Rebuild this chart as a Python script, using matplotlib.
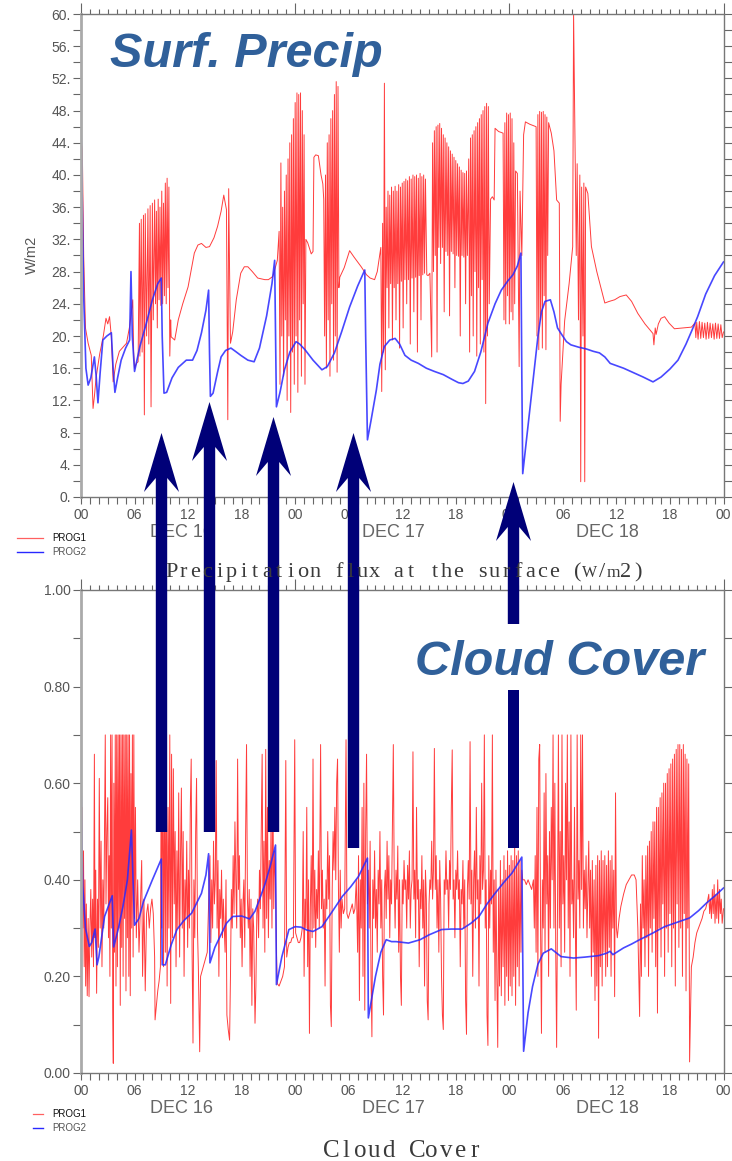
import numpy as np
import matplotlib
matplotlib.use("Agg")
import matplotlib.pyplot as plt
from matplotlib.ticker import FixedLocator, MultipleLocator, FuncFormatter
from matplotlib.patches import Polygon
import matplotlib.transforms as mtransforms

# ---------------------------------------------------------------- data
# hours since 00 UTC Dec 16, value

hour_ticks = [0, 6, 12, 18, 24, 30, 36, 42, 48, 54, 60, 66, 72]
hour_labels = ["00", "06", "12", "18", "00", "06", "12", "18", "00", "06", "12", "18", "00"]
day_labels = ["DEC 16", "DEC 17", "DEC 18"]
day_label_hours = [11.3, 35.0, 59.0]

# precipitation flux (W/m2), run PROG1
precip_prog1 = [
    (0.0, 8.0), (0.05, 44.0), (0.15, 43.0), (0.3, 30.0), (0.5, 21.0), (0.8, 19.1), (1.15, 17.6),
    (1.35, 11.0), (1.5, 12.5), (1.7, 14.9), (2.1, 17.8), (2.5, 20.0), (2.8, 22.2), (3.0, 21.5),
    (3.2, 22.4), (3.4, 19.9), (3.6, 14.3), (3.9, 16.5), (4.3, 18.1), (4.7, 18.6), (5.1, 19.1),
    (5.45, 21.2), (5.8, 24.5), (5.9, 18.0), (6.0, 16.0), (6.2, 16.6),
    (6.4, 16.8), (6.55, 34.0), (6.6, 17.5), (6.75, 34.5), (6.85, 18.0), (7.0, 35.0), (7.1, 10.2),
    (7.2, 35.2), (7.35, 20.0), (7.5, 35.8), (7.6, 19.0), (7.75, 36.2), (7.85, 11.2), (8.0, 36.5),
    (8.1, 22.0), (8.25, 36.9), (8.35, 24.0), (8.45, 35.5), (8.55, 21.0), (8.65, 37.0), (8.75, 24.5),
    (8.85, 36.0), (8.95, 23.8), (9.05, 38.0), (9.15, 24.0), (9.25, 36.5), (9.35, 25.0), (9.45, 39.0),
    (9.55, 24.0), (9.65, 39.6), (9.75, 26.0), (9.85, 38.5), (9.95, 17.5), (10.05, 22.0), (10.1, 19.9),
    (10.5, 19.5), (10.9, 22.0), (11.4, 24.0), (12.0, 26.1), (12.7, 30.3), (13.1, 31.3), (13.5, 31.5),
    (14.0, 31.0), (14.4, 31.1), (14.9, 32.2), (15.3, 33.6), (15.7, 35.5), (16.0, 37.5), (16.3, 35.7),
    (16.45, 9.6), (16.55, 38.3), (16.65, 28.0), (16.75, 19.1), (17.0, 20.5), (17.4, 24.5), (17.9, 27.8),
    (18.3, 28.6), (18.7, 28.6), (19.2, 28.0), (19.8, 27.2), (20.6, 27.0), (21.0, 27.0), (21.5, 27.4),
    (22.0, 29.4),
    (22.2, 33.0), (22.3, 14.0), (22.4, 41.5), (22.5, 20.0), (22.6, 36.0), (22.7, 15.0), (22.8, 38.0),
    (22.9, 22.0), (23.0, 40.0), (23.1, 12.0), (23.2, 42.0), (23.3, 20.0), (23.4, 44.0), (23.5, 10.5),
    (23.6, 45.0), (23.7, 18.0), (23.8, 47.0), (23.9, 14.0), (24.0, 49.0), (24.1, 20.0), (24.2, 50.2),
    (24.3, 13.0), (24.4, 50.0), (24.5, 22.0), (24.6, 50.2), (24.7, 15.0), (24.8, 48.0), (24.9, 24.0),
    (25.0, 45.0), (25.1, 14.0), (25.2, 32.0), (25.4, 31.6), (25.8, 30.2), (26.0, 30.5), (26.1, 42.2),
    (26.3, 42.5), (26.6, 42.4), (26.9, 40.0), (27.1, 38.9), (27.2, 37.0),
    (27.3, 20.0), (27.4, 40.0), (27.5, 16.0), (27.6, 44.0), (27.7, 22.0), (27.8, 45.0), (27.9, 15.0),
    (28.0, 47.0), (28.1, 24.0), (28.2, 48.0), (28.3, 17.0), (28.4, 50.0), (28.5, 20.0), (28.6, 51.6),
    (28.7, 15.5), (28.8, 51.0), (28.9, 26.0), (29.0, 27.3), (29.5, 28.5), (30.1, 30.6), (30.6, 29.8),
    (31.4, 28.6), (32.0, 27.6), (32.4, 27.2), (32.9, 27.0), (33.2, 28.0), (33.5, 30.3),
    (33.6, 31.0), (33.7, 13.1), (33.8, 34.0), (33.9, 18.0), (34.0, 51.4), (34.1, 15.8), (34.2, 36.0),
    (34.3, 26.0), (34.4, 38.0), (34.5, 21.0), (34.6, 37.5), (34.7, 26.5), (34.8, 38.5), (34.9, 19.5),
    (35.0, 38.0), (35.1, 26.0), (35.2, 38.6), (35.3, 22.0), (35.4, 38.0), (35.5, 26.5), (35.6, 38.8),
    (35.7, 18.5), (35.8, 38.5), (35.9, 26.8), (36.0, 39.0), (36.1, 21.0), (36.2, 39.2), (36.3, 27.0),
    (36.4, 39.5), (36.5, 24.0), (36.6, 39.3), (36.7, 27.0), (36.8, 39.8), (36.9, 19.0), (37.0, 39.5),
    (37.1, 27.2), (37.2, 40.0), (37.3, 23.0), (37.4, 39.8), (37.5, 27.3), (37.6, 40.0), (37.7, 18.0),
    (37.8, 39.6), (37.9, 27.5), (38.0, 40.2), (38.1, 22.0), (38.2, 39.8), (38.3, 27.6), (38.4, 40.0),
    (38.5, 27.8), (38.6, 39.5), (38.75, 27.6), (38.9, 27.5), (39.1, 27.8), (39.3, 17.4),
    (39.4, 44.0), (39.5, 28.0), (39.6, 45.5), (39.7, 30.0), (39.8, 46.0), (39.9, 18.0), (40.0, 46.2),
    (40.1, 31.0), (40.2, 46.4), (40.3, 29.0), (40.4, 45.8), (40.5, 31.0), (40.6, 45.0), (40.7, 23.0),
    (40.8, 44.6), (40.9, 30.5), (41.0, 44.0), (41.1, 30.0), (41.2, 43.5), (41.3, 22.5), (41.4, 43.0),
    (41.5, 30.5), (41.6, 42.6), (41.7, 30.2), (41.8, 42.2), (41.9, 26.0), (42.0, 41.8), (42.1, 30.0),
    (42.2, 41.4), (42.3, 29.9), (42.4, 41.0), (42.5, 20.0), (42.6, 40.6), (42.7, 30.0), (42.8, 40.3),
    (42.9, 29.8), (43.0, 40.2), (43.1, 24.0), (43.2, 40.5), (43.3, 30.0),
    (43.45, 42.0), (43.55, 18.0), (43.65, 44.6), (43.75, 25.0), (43.85, 45.0), (43.95, 20.0),
    (44.05, 45.5), (44.15, 28.0), (44.25, 46.0), (44.35, 17.5), (44.45, 46.5), (44.55, 26.0),
    (44.65, 47.0), (44.75, 19.0), (44.85, 47.5), (44.95, 27.0), (45.05, 48.0), (45.15, 18.0),
    (45.25, 48.5), (45.35, 11.6), (45.45, 48.9), (45.55, 20.0), (45.65, 48.5), (45.75, 24.0),
    (45.9, 37.0), (46.1, 37.3), (46.3, 36.9), (46.4, 45.8), (46.8, 45.4), (47.3, 45.2), (47.4, 22.0),
    (47.5, 46.5), (47.6, 21.5), (47.7, 47.7), (47.8, 25.0), (47.9, 47.5), (48.0, 21.5), (48.1, 47.7),
    (48.2, 23.0), (48.3, 47.0), (48.4, 22.0), (48.5, 44.0), (48.6, 24.0), (48.7, 40.5), (48.9, 40.2),
    (49.1, 16.2), (49.2, 38.0), (49.4, 30.0), (49.6, 45.0), (49.8, 46.6), (50.3, 46.3), (51.0, 46.0),
    (51.1, 20.0), (51.2, 47.5), (51.3, 18.3), (51.4, 47.9), (51.5, 22.0), (51.6, 47.8), (51.7, 18.5),
    (51.8, 47.9), (51.9, 25.0), (52.0, 47.5), (52.1, 18.3), (52.2, 47.2), (52.3, 30.0), (52.4, 46.5),
    (52.7, 45.2), (53.0, 43.0), (53.3, 36.9), (53.6, 36.5), (53.7, 9.4), (53.8, 14.0), (54.2, 21.9),
    (54.7, 26.5), (55.1, 31.1), (55.2, 60.0), (55.35, 45.0), (55.5, 30.0), (55.6, 41.4), (55.75, 22.0),
    (55.9, 40.0), (56.0, 1.9), (56.1, 38.5), (56.25, 20.0), (56.35, 39.0), (56.45, 1.9), (56.55, 38.5),
    (56.8, 37.7), (57.2, 31.1), (57.8, 28.0), (58.7, 24.1), (59.2, 24.3), (59.8, 24.5), (60.4, 24.9),
    (61.1, 25.1), (61.7, 24.3), (62.4, 22.8), (63.2, 21.5), (64.1, 20.3), (64.2, 18.9), (64.35, 21.0),
    (64.45, 20.2), (64.7, 21.5), (65.0, 22.2), (65.4, 22.4), (65.9, 21.6), (66.5, 20.9), (67.5, 21.0),
    (68.4, 21.1), (68.8, 21.6), (68.9, 19.8), (69.0, 21.7), (69.15, 19.6), (69.3, 21.8), (69.45, 19.7),
    (69.6, 21.7), (69.75, 19.8), (69.9, 21.6), (70.05, 19.6), (70.2, 21.7), (70.35, 19.7), (70.5, 21.6),
    (70.65, 19.8), (70.8, 21.5), (70.95, 19.6), (71.1, 21.6), (71.25, 19.7), (71.4, 21.5),
    (71.55, 19.7), (71.7, 21.4), (71.85, 19.8), (72.0, 20.5),
]

# precipitation flux (W/m2), run PROG2
precip_prog2 = [
    (0.0, 46.2), (0.1, 40.0), (0.3, 25.0), (0.55, 16.0), (0.8, 13.9), (1.1, 14.8), (1.5, 17.4),
    (1.7, 15.0), (1.9, 11.7), (2.15, 15.5), (2.45, 19.5), (2.9, 20.0), (3.4, 20.4), (3.6, 16.0),
    (3.8, 13.0), (4.1, 14.8), (4.5, 17.0), (5.0, 18.5), (5.45, 19.5), (5.6, 28.0), (5.75, 20.0),
    (6.0, 15.6), (6.6, 18.7), (7.3, 21.5), (8.0, 24.5), (8.6, 26.5), (9.0, 27.2), (9.1, 20.0),
    (9.3, 12.9), (9.6, 13.0), (10.2, 14.8), (10.9, 16.1), (11.8, 17.0), (12.5, 17.0), (13.0, 18.2),
    (13.5, 20.4), (14.0, 23.2), (14.3, 25.7), (14.4, 18.0), (14.5, 12.5), (14.8, 12.9), (15.3, 15.5),
    (15.7, 17.4), (16.2, 18.2), (16.8, 18.5), (17.3, 18.1), (17.9, 17.6), (18.7, 17.0), (19.4, 16.8),
    (20.0, 18.5), (20.8, 22.5), (21.4, 26.5), (21.7, 29.4), (21.8, 20.0), (21.9, 11.2), (22.3, 13.0),
    (22.8, 15.8), (23.4, 18.0), (24.1, 19.3), (24.5, 19.0), (25.1, 18.3), (26.0, 17.0), (27.0, 15.8),
    (27.6, 16.2), (28.4, 17.9), (29.2, 20.5), (30.1, 23.6), (31.0, 26.2), (31.8, 28.2), (31.9, 20.0),
    (32.1, 7.1), (32.5, 9.5), (33.1, 13.3), (33.5, 16.5), (34.0, 18.7), (34.6, 19.5), (35.2, 19.7),
    (35.7, 19.0), (36.3, 17.6), (37.0, 17.0), (37.8, 16.6), (38.7, 16.0), (39.6, 15.6), (40.6, 15.2),
    (41.6, 14.6), (42.3, 14.2), (42.8, 14.1), (43.4, 14.4), (44.1, 15.6), (44.8, 18.0), (45.6, 21.6),
    (46.4, 24.0), (47.1, 25.7), (47.8, 26.8), (48.4, 27.6), (48.9, 28.7), (49.3, 30.3), (49.4, 15.0),
    (49.5, 2.9), (51.2, 19.9), (51.6, 23.0), (52.0, 24.3), (52.6, 24.5), (53.0, 23.0), (53.4, 21.0),
    (53.8, 20.3), (54.4, 19.3), (54.9, 18.9), (55.8, 18.6), (56.6, 18.4), (57.4, 18.1), (58.1, 17.9),
    (58.7, 17.4), (59.3, 16.6), (59.8, 16.4), (60.8, 16.0), (62.0, 15.4), (63.0, 14.9), (64.1, 14.3),
    (65.0, 14.9), (66.0, 15.9), (66.9, 17.0), (67.8, 19.0), (68.5, 20.8), (69.1, 22.4), (70.0, 25.2),
    (71.0, 27.5), (72.0, 29.2),
]

# cloud cover fraction, run PROG1
cloud_prog1 = [
    (0.00, 0.70), (0.05, 0.40), (0.12, 0.55), (0.20, 0.30), (0.28, 0.46), (0.36, 0.22), (0.44, 0.40),
    (0.52, 0.18), (0.60, 0.35), (0.70, 0.16), (0.80, 0.32), (0.90, 0.158), (1.00, 0.30), (1.10, 0.38),
    (1.20, 0.24), (1.30, 0.36), (1.40, 0.22), (1.50, 0.66), (1.57, 0.28), (1.65, 0.42), (1.75, 0.165),
    (1.85, 0.36), (1.95, 0.26), (2.05, 0.61), (2.15, 0.30), (2.25, 0.48), (2.35, 0.22), (2.45, 0.40),
    (2.55, 0.30), (2.65, 0.55), (2.72, 0.70), (2.80, 0.35), (2.90, 0.50), (3.00, 0.57), (3.08, 0.28),
    (3.16, 0.45), (3.24, 0.20), (3.32, 0.70), (3.40, 0.30), (3.48, 0.70), (3.56, 0.13), (3.62, 0.02),
    (3.68, 0.60), (3.76, 0.25), (3.84, 0.70), (3.92, 0.18), (4.00, 0.70), (4.08, 0.22), (4.16, 0.70),
    (4.24, 0.30), (4.32, 0.70), (4.40, 0.14), (4.48, 0.70), (4.56, 0.26), (4.64, 0.70), (4.72, 0.20),
    (4.80, 0.70), (4.88, 0.32), (4.96, 0.70), (5.04, 0.17), (5.12, 0.70), (5.20, 0.28), (5.28, 0.70),
    (5.36, 0.20), (5.44, 0.70), (5.52, 0.16), (5.60, 0.62), (5.68, 0.30), (5.76, 0.70), (5.84, 0.24),
    (5.92, 0.70), (6.00, 0.32), (6.10, 0.55), (6.20, 0.28), (6.35, 0.40), (6.50, 0.25), (6.65, 0.34),
    (6.80, 0.44), (6.90, 0.20), (7.05, 0.36), (7.20, 0.17), (7.35, 0.33), (7.50, 0.35), (7.65, 0.30),
    (7.80, 0.34), (7.95, 0.36), (8.10, 0.33), (8.25, 0.24), (8.30, 0.11), (8.45, 0.14), (8.60, 0.17),
    (8.75, 0.19), (8.90, 0.22), (9.00, 0.70), (9.05, 0.30), (9.15, 0.70), (9.25, 0.22), (9.35, 0.62),
    (9.45, 0.25), (9.55, 0.70), (9.65, 0.18), (9.75, 0.55), (9.85, 0.30), (9.95, 0.70), (10.05, 0.144),
    (10.15, 0.66), (10.25, 0.28), (10.35, 0.63), (10.45, 0.35), (10.55, 0.50), (10.65, 0.22),
    (10.75, 0.46), (10.85, 0.30), (10.95, 0.58), (11.05, 0.24), (11.15, 0.45), (11.25, 0.59),
    (11.35, 0.30), (11.45, 0.50), (11.55, 0.20), (11.65, 0.40), (11.75, 0.32), (11.85, 0.48),
    (11.95, 0.26), (12.05, 0.42), (12.15, 0.30), (12.25, 0.55), (12.35, 0.65), (12.45, 0.25),
    (12.55, 0.062), (12.65, 0.40), (12.75, 0.28), (12.85, 0.50), (12.95, 0.61), (13.05, 0.30),
    (13.15, 0.22), (13.30, 0.044), (13.40, 0.20), (13.55, 0.21), (13.70, 0.22), (13.85, 0.23),
    (14.00, 0.24), (14.15, 0.25), (14.30, 0.35), (14.45, 0.45), (14.55, 0.27), (14.65, 0.40),
    (14.75, 0.30), (14.85, 0.48), (14.95, 0.35), (15.05, 0.40), (15.15, 0.647), (15.25, 0.30),
    (15.35, 0.44), (15.45, 0.20), (15.55, 0.38), (15.65, 0.32), (15.75, 0.42), (15.85, 0.28),
    (15.95, 0.36), (16.05, 0.30), (16.15, 0.25), (16.25, 0.40), (16.35, 0.12), (16.50, 0.09),
    (16.65, 0.068), (16.75, 0.20), (16.85, 0.38), (16.95, 0.30), (17.05, 0.45), (17.15, 0.33),
    (17.25, 0.52), (17.35, 0.40), (17.45, 0.30), (17.55, 0.65), (17.65, 0.38), (17.75, 0.45),
    (17.85, 0.28), (17.95, 0.36), (18.05, 0.22), (18.15, 0.35), (18.25, 0.40), (18.35, 0.26),
    (18.45, 0.50), (18.55, 0.68), (18.65, 0.36), (18.75, 0.30), (18.85, 0.38), (18.95, 0.20),
    (19.05, 0.36), (19.15, 0.14), (19.25, 0.34), (19.35, 0.30), (19.50, 0.103), (19.60, 0.18),
    (19.70, 0.33), (19.80, 0.36), (19.90, 0.28), (20.00, 0.42), (20.10, 0.34), (20.20, 0.50),
    (20.30, 0.66), (20.40, 0.30), (20.50, 0.48), (20.60, 0.25), (20.70, 0.67), (20.80, 0.32),
    (20.90, 0.55), (21.00, 0.28), (21.10, 0.44), (21.20, 0.36), (21.30, 0.52), (21.40, 0.30),
    (21.50, 0.60), (21.60, 0.34), (21.70, 0.46), (21.80, 0.40), (21.90, 0.25), (22.00, 0.185),
    (22.20, 0.18), (22.40, 0.19), (22.60, 0.20), (22.80, 0.22), (22.95, 0.647), (23.05, 0.24),
    (23.20, 0.26), (23.35, 0.27), (23.50, 0.27), (23.65, 0.28), (23.80, 0.28), (23.95, 0.69),
    (24.05, 0.29), (24.20, 0.28), (24.35, 0.27), (24.50, 0.27), (24.65, 0.28), (24.80, 0.30),
    (24.90, 0.50), (25.00, 0.20), (25.10, 0.36), (25.20, 0.30), (25.30, 0.55), (25.40, 0.22),
    (25.50, 0.40), (25.60, 0.082), (25.70, 0.34), (25.80, 0.45), (25.90, 0.28), (26.00, 0.65),
    (26.10, 0.30), (26.20, 0.42), (26.30, 0.26), (26.40, 0.38), (26.50, 0.32), (26.60, 0.46),
    (26.70, 0.30), (26.85, 0.68), (26.95, 0.34), (27.05, 0.42), (27.15, 0.30), (27.25, 0.36),
    (27.35, 0.18), (27.45, 0.40), (27.55, 0.34), (27.65, 0.50), (27.75, 0.36), (27.85, 0.45),
    (27.95, 0.14), (28.05, 0.096), (28.15, 0.38), (28.25, 0.50), (28.35, 0.42), (28.45, 0.55),
    (28.55, 0.40), (28.65, 0.60), (28.75, 0.65), (28.85, 0.38), (28.95, 0.25), (29.05, 0.42),
    (29.15, 0.30), (29.25, 0.36), (29.40, 0.33), (29.55, 0.34), (29.70, 0.69), (29.80, 0.33),
    (29.95, 0.32), (30.10, 0.33), (30.25, 0.34), (30.40, 0.35), (30.55, 0.33), (30.70, 0.34),
    (30.85, 0.40), (31.00, 0.25), (31.10, 0.45), (31.20, 0.15), (31.30, 0.40), (31.40, 0.30),
    (31.50, 0.55), (31.60, 0.20), (31.70, 0.60), (31.80, 0.13), (31.90, 0.50), (32.00, 0.66),
    (32.10, 0.35), (32.20, 0.42), (32.30, 0.30), (32.40, 0.48), (32.50, 0.20), (32.60, 0.075),
    (32.70, 0.40), (32.80, 0.32), (32.90, 0.46), (33.00, 0.30), (33.10, 0.38), (33.20, 0.25),
    (33.30, 0.42), (33.40, 0.35), (33.50, 0.50), (33.60, 0.30), (33.70, 0.40), (33.80, 0.20),
    (33.90, 0.12), (34.00, 0.38), (34.10, 0.42), (34.20, 0.32), (34.30, 0.48), (34.40, 0.36),
    (34.50, 0.45), (34.60, 0.28), (34.70, 0.40), (34.80, 0.35), (34.90, 0.52), (35.00, 0.68),
    (35.10, 0.40), (35.20, 0.30), (35.30, 0.42), (35.40, 0.36), (35.50, 0.47), (35.60, 0.25),
    (35.70, 0.40), (35.80, 0.20), (35.90, 0.14), (36.00, 0.40), (36.10, 0.35), (36.20, 0.44),
    (36.30, 0.38), (36.40, 0.40), (36.50, 0.30), (36.60, 0.43), (36.70, 0.36), (36.80, 0.46),
    (36.90, 0.30), (37.00, 0.38), (37.10, 0.40), (37.20, 0.665), (37.30, 0.36), (37.40, 0.42),
    (37.50, 0.28), (37.60, 0.55), (37.70, 0.36), (37.80, 0.40), (37.90, 0.22), (38.00, 0.38),
    (38.10, 0.34), (38.20, 0.45), (38.30, 0.30), (38.40, 0.40), (38.50, 0.18), (38.60, 0.42),
    (38.70, 0.36), (38.80, 0.15), (38.90, 0.11), (39.00, 0.35), (39.10, 0.40), (39.20, 0.38),
    (39.30, 0.48), (39.40, 0.36), (39.50, 0.42), (39.60, 0.672), (39.70, 0.38), (39.80, 0.45),
    (39.90, 0.30), (40.00, 0.40), (40.10, 0.25), (40.20, 0.44), (40.30, 0.36), (40.40, 0.20),
    (40.50, 0.12), (40.60, 0.09), (40.70, 0.40), (40.80, 0.37), (40.90, 0.46), (41.00, 0.38),
    (41.10, 0.40), (41.20, 0.30), (41.30, 0.44), (41.40, 0.38), (41.50, 0.55), (41.60, 0.669),
    (41.70, 0.36), (41.80, 0.40), (41.90, 0.28), (42.00, 0.42), (42.10, 0.38), (42.20, 0.46),
    (42.30, 0.36), (42.40, 0.40), (42.50, 0.22), (42.60, 0.38), (42.70, 0.35), (42.80, 0.44),
    (42.90, 0.30), (43.00, 0.40), (43.10, 0.15), (43.20, 0.08), (43.30, 0.38), (43.40, 0.44),
    (43.50, 0.36), (43.60, 0.686), (43.70, 0.35), (43.80, 0.42), (43.90, 0.20), (44.00, 0.40),
    (44.10, 0.46), (44.20, 0.30), (44.30, 0.55), (44.40, 0.36), (44.50, 0.40), (44.60, 0.18),
    (44.70, 0.45), (44.80, 0.35), (44.90, 0.60), (45.00, 0.38), (45.10, 0.42), (45.20, 0.70),
    (45.30, 0.30), (45.40, 0.40), (45.50, 0.12), (45.60, 0.057), (45.70, 0.45), (45.80, 0.30),
    (45.90, 0.42), (46.00, 0.35), (46.10, 0.70), (46.20, 0.25), (46.30, 0.40), (46.40, 0.15),
    (46.50, 0.42), (46.60, 0.20), (46.70, 0.053), (46.80, 0.38), (46.90, 0.18), (47.00, 0.44),
    (47.10, 0.16), (47.20, 0.40), (47.30, 0.22), (47.40, 0.45), (47.50, 0.14), (47.60, 0.42),
    (47.70, 0.20), (47.80, 0.46), (47.90, 0.15), (48.00, 0.43), (48.10, 0.18), (48.20, 0.45),
    (48.30, 0.16), (48.40, 0.44), (48.50, 0.20), (48.60, 0.47), (48.70, 0.14), (48.80, 0.45),
    (48.90, 0.22), (49.00, 0.46), (49.10, 0.18), (49.20, 0.44), (49.30, 0.25), (49.40, 0.42),
    (49.50, 0.40), (49.70, 0.40), (49.90, 0.39), (50.10, 0.40), (50.30, 0.39), (50.50, 0.38),
    (50.70, 0.40), (50.80, 0.30), (50.90, 0.45), (51.00, 0.25), (51.10, 0.55), (51.20, 0.20),
    (51.30, 0.65), (51.40, 0.68), (51.50, 0.30), (51.60, 0.082), (51.70, 0.40), (51.80, 0.30),
    (51.90, 0.58), (52.00, 0.25), (52.10, 0.62), (52.20, 0.35), (52.30, 0.45), (52.40, 0.20),
    (52.50, 0.50), (52.60, 0.30), (52.70, 0.55), (52.80, 0.40), (52.90, 0.70), (53.00, 0.30),
    (53.10, 0.60), (53.20, 0.25), (53.30, 0.053), (53.40, 0.35), (53.50, 0.70), (53.60, 0.30),
    (53.70, 0.50), (53.80, 0.22), (53.90, 0.70), (54.00, 0.35), (54.10, 0.45), (54.20, 0.25),
    (54.30, 0.60), (54.40, 0.40), (54.50, 0.70), (54.60, 0.30), (54.70, 0.52), (54.80, 0.20),
    (54.90, 0.70), (55.00, 0.35), (55.10, 0.40), (55.20, 0.28), (55.30, 0.55), (55.40, 0.30),
    (55.50, 0.13), (55.60, 0.70), (55.70, 0.36), (55.80, 0.44), (55.90, 0.30), (56.00, 0.70),
    (56.10, 0.38), (56.20, 0.70), (56.30, 0.30), (56.40, 0.42), (56.50, 0.34), (56.60, 0.45),
    (56.70, 0.28), (56.80, 0.38), (56.90, 0.48), (57.00, 0.30), (57.10, 0.42), (57.20, 0.20),
    (57.30, 0.44), (57.40, 0.25), (57.50, 0.40), (57.60, 0.15), (57.70, 0.43), (57.80, 0.18),
    (57.90, 0.45), (58.00, 0.072), (58.10, 0.44), (58.20, 0.22), (58.30, 0.46), (58.40, 0.18),
    (58.50, 0.44), (58.60, 0.25), (58.70, 0.45), (58.80, 0.20), (58.90, 0.43), (59.00, 0.22),
    (59.10, 0.46), (59.20, 0.26), (59.30, 0.44), (59.40, 0.20), (59.50, 0.45), (59.60, 0.30),
    (59.70, 0.42), (59.80, 0.158), (59.90, 0.58), (60.00, 0.30), (60.10, 0.28), (60.30, 0.32),
    (60.50, 0.345), (60.80, 0.37), (61.10, 0.39), (61.40, 0.40), (61.70, 0.41), (62.00, 0.41),
    (62.20, 0.40), (62.40, 0.30), (62.60, 0.117), (62.70, 0.35), (62.80, 0.20), (62.90, 0.45),
    (63.00, 0.30), (63.10, 0.40), (63.20, 0.22), (63.30, 0.45), (63.40, 0.28), (63.50, 0.47),
    (63.60, 0.20), (63.70, 0.48), (63.80, 0.30), (63.90, 0.50), (64.00, 0.25), (64.10, 0.52),
    (64.20, 0.32), (64.30, 0.52), (64.40, 0.22), (64.50, 0.55), (64.60, 0.124), (64.70, 0.55),
    (64.80, 0.30), (64.90, 0.57), (65.00, 0.24), (65.10, 0.58), (65.20, 0.35), (65.30, 0.60),
    (65.40, 0.20), (65.50, 0.60), (65.60, 0.30), (65.70, 0.62), (65.80, 0.25), (65.90, 0.63),
    (66.00, 0.33), (66.10, 0.64), (66.20, 0.22), (66.30, 0.65), (66.40, 0.30), (66.50, 0.66),
    (66.60, 0.18), (66.70, 0.67), (66.80, 0.35), (66.90, 0.68), (67.00, 0.26), (67.10, 0.68),
    (67.20, 0.30), (67.30, 0.67), (67.40, 0.20), (67.50, 0.68), (67.60, 0.33), (67.70, 0.66),
    (67.80, 0.17), (67.90, 0.65), (68.00, 0.30), (68.10, 0.64), (68.20, 0.023), (68.40, 0.22),
    (68.60, 0.24), (68.80, 0.27), (69.00, 0.29), (69.20, 0.30), (69.40, 0.31), (69.60, 0.32),
    (69.80, 0.335), (70.00, 0.34), (70.20, 0.355), (70.35, 0.37), (70.45, 0.33), (70.55, 0.36),
    (70.65, 0.32), (70.75, 0.38), (70.85, 0.33), (70.95, 0.39), (71.05, 0.31), (71.15, 0.37),
    (71.25, 0.32), (71.35, 0.40), (71.45, 0.31), (71.55, 0.38), (71.65, 0.33), (71.75, 0.36),
    (71.85, 0.31), (72.00, 0.34),
]

# cloud cover fraction, run PROG2
cloud_prog2 = [
    (0.0, 0.60), (0.2, 0.386), (0.5, 0.30), (0.93, 0.262), (1.2, 0.27), (1.58, 0.298), (1.8, 0.224),
    (2.0, 0.24), (2.64, 0.324), (3.5, 0.367), (3.66, 0.261), (4.2, 0.30), (4.7, 0.345), (5.2, 0.40),
    (5.65, 0.503), (6.0, 0.306), (6.5, 0.32), (7.0, 0.355), (8.0, 0.40), (9.0, 0.443), (9.1, 0.224),
    (9.45, 0.224), (10.1, 0.265), (10.75, 0.297), (11.5, 0.315), (12.4, 0.331), (13.5, 0.372),
    (14.0, 0.41), (14.3, 0.454), (14.45, 0.228), (15.0, 0.26), (15.6, 0.283), (16.3, 0.31),
    (17.0, 0.324), (18.0, 0.325), (18.9, 0.319), (19.5, 0.335), (20.0, 0.359), (20.6, 0.39),
    (21.2, 0.428), (21.8, 0.472), (21.9, 0.183), (22.5, 0.24), (23.3, 0.297), (24.0, 0.303),
    (24.65, 0.302), (25.3, 0.296), (26.0, 0.293), (27.0, 0.303), (28.0, 0.33), (29.3, 0.366),
    (30.2, 0.385), (31.1, 0.407), (32.1, 0.445), (32.2, 0.114), (33.0, 0.200), (33.6, 0.25),
    (34.2, 0.276), (34.8, 0.272), (35.3, 0.272), (36.7, 0.269), (38.0, 0.276), (39.0, 0.286),
    (40.4, 0.297), (41.5, 0.298), (42.7, 0.298), (43.7, 0.31), (44.6, 0.324), (45.5, 0.35),
    (46.4, 0.372), (47.4, 0.395), (48.3, 0.414), (49.4, 0.447), (49.6, 0.045), (50.1, 0.125),
    (50.6, 0.179), (51.2, 0.225), (51.8, 0.248), (52.7, 0.257), (53.8, 0.241), (55.2, 0.238),
    (56.5, 0.240), (58.0, 0.243), (58.9, 0.248), (59.3, 0.252), (59.6, 0.245), (60.2, 0.252),
    (60.8, 0.259), (61.7, 0.267), (62.6, 0.276), (64.0, 0.289), (65.4, 0.303), (66.8, 0.312),
    (68.2, 0.321), (69.2, 0.336), (70.1, 0.352), (71.0, 0.366), (72.0, 0.383),
]

# ---------------------------------------------------------------- figure
W, H = 732, 1161
fig = plt.figure(figsize=(W / 100, H / 100), dpi=100)
plt.rcParams["font.family"] = ["Liberation Sans", "DejaVu Sans"]

RED = "#ff1a1a"
BLUE = "#2828ff"
NAVY = "#000078"
TITLE_BLUE = "#30609a"
TICK_GREY = "#555555"


def px_box(x0, y0, x1, y1):
    return [x0 / W, 1 - y1 / H, (x1 - x0) / W, (y1 - y0) / H]


def style_panel(ax, ymax, ymajor, yminor, yfmt):
    ax.set_xlim(0, 72)
    ax.set_ylim(0, ymax)
    ax.xaxis.set_major_locator(FixedLocator(hour_ticks))
    ax.set_xticklabels(hour_labels)
    ax.xaxis.set_minor_locator(MultipleLocator(1))
    ax.yaxis.set_major_locator(MultipleLocator(ymajor))
    ax.yaxis.set_minor_locator(MultipleLocator(yminor))
    ax.yaxis.set_major_formatter(FuncFormatter(yfmt))
    ax.tick_params(axis="x", which="both", direction="out", length=4.8, width=0.8,
                   color="#666666", labelcolor=TICK_GREY, labelsize=10, pad=3)
    ax.tick_params(axis="y", which="both", direction="out", length=5.8, width=0.8,
                   color="#666666", labelcolor=TICK_GREY, labelsize=10, pad=1.5,
                   right=True)
    for side in ("top", "right", "bottom"):
        ax.spines[side].set_color("#777777")
        ax.spines[side].set_linewidth(1.0)
    ax.spines["left"].set_color("#aaaaaa")
    ax.spines["left"].set_linewidth(2.0)
    # hourly ticks on the upper edge, longer at each day boundary
    top = ax.secondary_xaxis("top")
    top.xaxis.set_major_locator(FixedLocator([0, 24, 48, 72]))
    top.xaxis.set_minor_locator(MultipleLocator(1))
    top.tick_params(which="major", direction="out", length=8, width=0.8, color="#666666",
                    labeltop=False)
    top.tick_params(which="minor", direction="out", length=3.6, width=0.8, color="#666666")
    top.spines["top"].set_visible(False)
    trans = mtransforms.blended_transform_factory(ax.transData, ax.transAxes)
    for lab, hr in zip(day_labels, day_label_hours):
        ax.text(hr, -0.0745, lab, transform=trans, ha="center", va="center",
                fontsize=13, color="#666666")


ax1 = fig.add_axes(px_box(81, 14, 723.5, 497))
ax2 = fig.add_axes(px_box(81, 590, 723.5, 1073))

style_panel(ax1, 60, 4, 2, lambda v, p: f"{int(round(v))}.")
style_panel(ax2, 1.0, 0.2, 0.1, lambda v, p: f"{v:.2f}")

h, v = zip(*precip_prog1)
ax1.plot(h, v, color=RED, lw=0.7, alpha=0.85)
h, v = zip(*precip_prog2)
ax1.plot(h, v, color=BLUE, lw=1.2, alpha=0.85)

h, v = zip(*cloud_prog1)
ax2.plot(h, v, color=RED, lw=0.7, alpha=0.85)
h, v = zip(*cloud_prog2)
ax2.plot(h, v, color=BLUE, lw=1.2, alpha=0.85)

# ---------------------------------------------------------------- overlay (pixel space)
ov = fig.add_axes([0, 0, 1, 1], zorder=10)
ov.set_xlim(0, W)
ov.set_ylim(H, 0)
ov.axis("off")
ov.patch.set_alpha(0)

# y-axis label of the upper panel
ov.text(32, 255, "W/m2", rotation=90, ha="center", va="center", fontsize=10.5, color=TICK_GREY)

WIDE_GLYPHS = {"W": 0.72, "m": 0.78, "M": 0.75}


def spaced_text(x_first, y_base, text, pitch, size):
    """Typewriter-style caption: one glyph per fixed-width cell."""
    for i, ch in enumerate(text):
        ov.text(x_first + i * pitch, y_base, ch, ha="center", va="baseline",
                fontsize=size * WIDE_GLYPHS.get(ch, 1.0), color="#3a3a3a",
                family="Liberation Serif")


spaced_text(171.5, 577, "Precipitation flux at the surface (W/m2)", 11.95, 16)
spaced_text(331.5, 1157, "Cloud Cover", 14.3, 18)

# legends
for y_red, y_blue, x0 in ((538, 552, 17), (1114, 1128, 33)):
    ov.plot([x0, 43], [y_red, y_red], color="#ff6060", lw=0.9)
    ov.plot([x0, 43], [y_blue, y_blue], color=BLUE, lw=1.0)
    ov.text(52, y_red, "PROG1", fontsize=7, color="#111111", va="center")
    ov.text(52, y_blue, "PROG2", fontsize=7, color="#555555", va="center")

# highlighted panel names
ov.text(110, 67, "Surf. Precip", fontsize=35, fontweight="bold", fontstyle="italic",
        color=TITLE_BLUE, va="baseline", ha="left")
ov.text(415, 675, "Cloud Cover", fontsize=35, fontweight="bold", fontstyle="italic",
        color=TITLE_BLUE, va="baseline", ha="left")

# arrows linking the precipitation minima to the cloud-cover panel
arrows = [  # centre x, tip y, shaft bottom y
    (161.5, 433, 832),
    (209.5, 402, 832),
    (273.5, 417, 832),
    (353.5, 433, 848),
    (513.5, 482, 624),
]
hw, head_w, head_len, notch = 5.7, 17.5, 59, 14
for cx, ty, by in arrows:
    pts = [(cx, ty), (cx + head_w, ty + head_len), (cx + hw, ty + head_len - notch),
           (cx + hw, by), (cx - hw, by), (cx - hw, ty + head_len - notch),
           (cx - head_w, ty + head_len)]
    ov.add_patch(Polygon(pts, closed=True, facecolor=NAVY, edgecolor="none"))

# lower part of the last arrow, below the "Cloud Cover" label
cx = 513.5
ov.add_patch(Polygon([(cx - hw, 690), (cx + hw, 690), (cx + hw, 848), (cx - hw, 848)],
                     closed=True, facecolor=NAVY, edgecolor="none"))

fig.savefig("out.png", dpi=100)
